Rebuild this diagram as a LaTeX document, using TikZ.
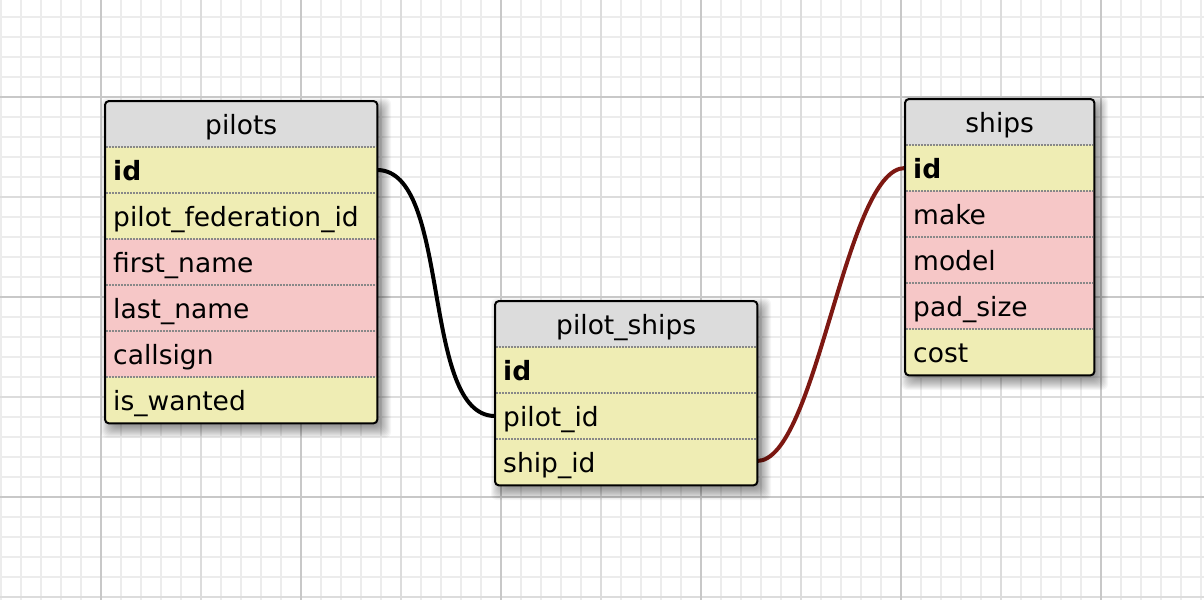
\documentclass[tikz,border=0pt]{standalone}
\usepackage{fontspec}
\setmainfont{DejaVu Sans}
\definecolor{hdr}{RGB}{220,220,220}
\definecolor{ylw}{RGB}{239,237,180}
\definecolor{pnk}{RGB}{246,199,199}
\definecolor{sepc}{RGB}{136,136,136}
\definecolor{fkred}{RGB}{125,24,18}
\definecolor{gminor}{RGB}{236,236,236}
\definecolor{gmid}{RGB}{220,220,220}
\definecolor{gmajor}{RGB}{200,200,200}
\newcommand\tabshadow[4]{%
  \foreach \i in {-3,...,9}{%
    \fill[black, fill opacity=0.034, rounded corners=6pt]
      ({#1+5-\i},{#2+6-\i}) rectangle ({#3+5+\i},{#4+6+\i});}}
\begin{document}
\begin{tikzpicture}[x=1pt,y=-1pt,
  fld/.style={draw=none, inner xsep=8pt, inner ysep=0pt, minimum height=46pt,
    anchor=north west, text height=26pt, text depth=6pt,
    font=\fontsize{26.5}{30}\selectfont, align=left},
  hdrbox/.style={fld, fill=hdr, align=center},
  yrow/.style={fld, fill=ylw},
  prow/.style={fld, fill=pnk},
  frame/.style={draw=none, fill=white, inner sep=0pt, anchor=north west},
  border/.style={draw=black, line width=2pt, rounded corners=4pt},
  sepline/.style={sepc, line width=1.5pt, dash pattern=on 1.5pt off 1.5pt},
  rel/.style={line width=4pt, black},
  relred/.style={line width=4pt, fkred},
]
\useasboundingbox (0,0) rectangle (1204,600);
\fill[white] (0,0) rectangle (1204,600);
% grid
\foreach \x in {1,21,...,1201} \draw[gminor, line width=1.5pt] (\x,0) -- (\x,600);
\foreach \y in {17,37,...,597} \draw[gminor, line width=1.5pt] (0,\y) -- (1204,\y);
\foreach \x in {201,401,601,801,1001} \draw[gmid, line width=1.5pt] (\x,0) -- (\x,600);
\foreach \y in {197,397,597} \draw[gmid, line width=1.5pt] (0,\y) -- (1204,\y);
\foreach \x in {101,301,501,701,901,1101} \draw[gmajor, line width=1.5pt] (\x,0) -- (\x,600);
\foreach \y in {97,297,497} \draw[gmajor, line width=1.5pt] (0,\y) -- (1204,\y);

% connectors (row centres on table edges)
\coordinate (c-pilots-id) at (377,170);
\coordinate (c-ps-pilot) at (495,416);
\coordinate (c-ps-ship) at (757,461);
\coordinate (c-ships-id) at (905,168);
\draw[rel] (c-pilots-id) .. controls +(75,0) and +(-75,0) .. (c-ps-pilot);
\draw[relred] (c-ps-ship) .. controls +(60,0) and +(-60,0) .. (c-ships-id);

% shadows
\tabshadow{105}{101}{377}{423}
\tabshadow{495}{301}{757}{485}
\tabshadow{905}{99}{1094}{375}

% ---------- pilots ----------
\node[frame, minimum width=272pt, minimum height=322pt] (pilots) at (105,101) {};
\begin{scope}
\clip[rounded corners=4pt] (pilots.north west) rectangle (pilots.south east);
\node[hdrbox, text width=256pt] (pilots-h) at (105,101) {pilots};
\node[yrow, text width=256pt] (pilots-id) at (105,147) {\textbf{id}};
\node[yrow, text width=256pt] (pilots-fed) at (105,193) {pilot\_federation\_id};
\node[prow, text width=256pt] (pilots-first) at (105,239) {first\_name};
\node[prow, text width=256pt] (pilots-last) at (105,285) {last\_name};
\node[prow, text width=256pt] (pilots-call) at (105,331) {callsign};
\node[yrow, text width=256pt] (pilots-wanted) at (105,377) {is\_wanted};
\end{scope}
\foreach \y in {147,193,239,285,331,377} \draw[sepline] (106,\y) -- (376,\y);
\draw[border] (pilots.north west) rectangle (pilots.south east);

% ---------- pilot_ships ----------
\node[frame, minimum width=262pt, minimum height=184pt] (ps) at (495,301) {};
\begin{scope}
\clip[rounded corners=4pt] (ps.north west) rectangle (ps.south east);
\node[hdrbox, text width=246pt] (ps-h) at (495,301) {pilot\_ships};
\node[yrow, text width=246pt] (ps-id) at (495,347) {\textbf{id}};
\node[yrow, text width=246pt] (ps-pilot) at (495,393) {pilot\_id};
\node[yrow, text width=246pt] (ps-ship) at (495,439) {ship\_id};
\end{scope}
\foreach \y in {347,393,439} \draw[sepline] (496,\y) -- (756,\y);
\draw[border] (ps.north west) rectangle (ps.south east);

% ---------- ships ----------
\node[frame, minimum width=189pt, minimum height=276pt] (ships) at (905,99) {};
\begin{scope}
\clip[rounded corners=4pt] (ships.north west) rectangle (ships.south east);
\node[hdrbox, text width=173pt] (ships-h) at (905,99) {ships};
\node[yrow, text width=173pt] (ships-id) at (905,145) {\textbf{id}};
\node[prow, text width=173pt] (ships-make) at (905,191) {make};
\node[prow, text width=173pt] (ships-model) at (905,237) {model};
\node[prow, text width=173pt] (ships-pad) at (905,283) {pad\_size};
\node[yrow, text width=173pt] (ships-cost) at (905,329) {cost};
\end{scope}
\foreach \y in {145,191,237,283,329} \draw[sepline] (906,\y) -- (1093,\y);
\draw[border] (ships.north west) rectangle (ships.south east);
\end{tikzpicture}
\end{document}
